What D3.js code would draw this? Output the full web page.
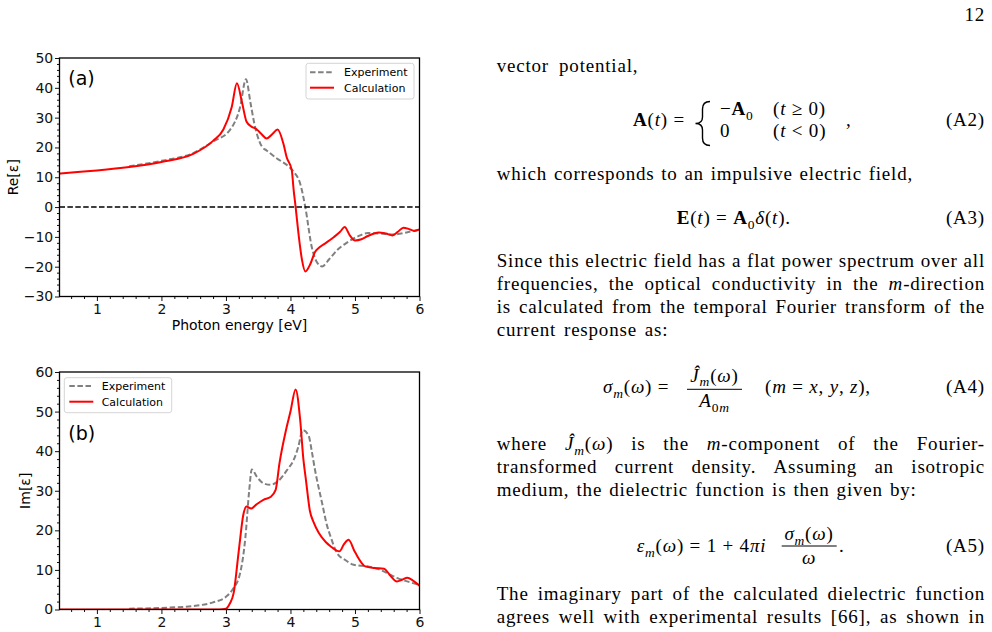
<!DOCTYPE html>
<html>
<head>
<meta charset="utf-8">
<script src="https://cdn.jsdelivr.net/npm/d3@7"></script>
<style>
  body { margin: 0; background: #fff; }
  svg { display: block; }
  .axis text { font-family: "DejaVu Sans", sans-serif; font-size: 14px; fill: #111; }
  .axis line { stroke: #111; stroke-width: 1; }
  .page text { font-family: "Liberation Serif", serif; font-size: 19px; fill: #000; letter-spacing: 0.8px; }
</style>
</head>
<body>
<script>
// ---- data ----
const xTicks = [1, 2, 3, 4, 5, 6];
const reTicks = [-30, -20, -10, 0, 10, 20, 30, 40, 50];
const imTicks = [0, 10, 20, 30, 40, 50, 60];

// (a) real part
const energyReCalc = [0.4, 0.7, 1.0, 1.5, 2.0, 2.5, 2.8, 2.96, 3.09, 3.17, 3.25, 3.32, 3.40, 3.47, 3.55, 3.63, 3.72, 3.80, 3.89, 3.94, 4.02, 4.05, 4.08, 4.13, 4.18, 4.23, 4.31, 4.38, 4.45, 4.55, 4.67, 4.77, 4.84, 4.92, 5.0, 5.1, 5.19, 5.37, 5.48, 5.58, 5.67, 5.75, 5.84, 5.92, 6.0];
const reCalc = [11.2, 11.8, 12.3, 13.4, 15.1, 17.9, 22.2, 26.0, 33.6, 41.5, 35.0, 28.6, 26.9, 26.2, 24.5, 23.0, 24.5, 26.0, 21.3, 16.8, 12.4, 5.6, 0, -10.0, -17.9, -21.6, -19.0, -15.1, -13.5, -12.0, -10.1, -8.3, -6.7, -9.5, -11.2, -10.8, -9.8, -8.5, -8.9, -9.5, -8.2, -6.9, -7.4, -8.0, -7.5];
const energyReExp = [1.5, 2.0, 2.5, 2.8, 3.06, 3.22, 3.31, 3.38, 3.44, 3.48, 3.56, 3.63, 3.79, 3.95, 4.05, 4.15, 4.23, 4.33, 4.41, 4.49, 4.6, 4.72, 4.87, 5.03, 5.2, 5.4, 5.6, 5.8, 6.0];
const reExp = [13.7, 15.5, 18.2, 22.0, 25.8, 33.6, 42.9, 35.0, 28.0, 24.5, 20.2, 19.0, 16.3, 14.0, 11.8, 7.9, 0, -13.4, -18.5, -19.9, -17.5, -14.5, -12.0, -10.0, -8.7, -8.9, -9.2, -8.5, -7.5];

// (b) imaginary part
const energyImCalc = [0.4, 2.9, 3.0, 3.06, 3.12, 3.2, 3.27, 3.32, 3.39, 3.47, 3.58, 3.69, 3.77, 3.83, 3.93, 4.0, 4.08, 4.15, 4.2, 4.24, 4.3, 4.36, 4.44, 4.55, 4.62, 4.76, 4.83, 4.9, 5.0, 5.16, 5.3, 5.45, 5.55, 5.65, 5.73, 5.81, 5.9, 6.0];
const imCalc = [0, 0, 0.2, 1.5, 4.2, 15.0, 24.0, 26.0, 25.5, 26.5, 27.7, 28.4, 30.2, 37.0, 45.3, 50.0, 55.6, 48.0, 38.0, 32.7, 25.0, 22.0, 19.3, 17.0, 16.0, 14.7, 16.5, 17.6, 14.5, 10.9, 10.5, 10.3, 8.5, 7.1, 7.5, 8.0, 7.3, 6.0];
const energyImExp = [1.5, 2.0, 2.5, 2.8, 3.0, 3.1, 3.22, 3.3, 3.36, 3.40, 3.48, 3.58, 3.69, 3.8, 3.95, 4.05, 4.12, 4.19, 4.28, 4.33, 4.38, 4.49, 4.57, 4.62, 4.72, 4.85, 4.98, 5.19, 5.35, 5.5, 5.65, 5.81, 6.0];
const imExp = [0.2, 0.4, 0.9, 1.8, 3.2, 5.0, 9.2, 18.0, 30.0, 35.4, 33.5, 31.9, 31.5, 32.3, 35.3, 37.8, 41.0, 45.3, 44.0, 40.0, 35.3, 26.9, 21.0, 18.5, 14.3, 12.5, 11.3, 10.9, 10.3, 9.2, 8.0, 7.1, 6.2];

const seriesNames = ["Experiment", "Calculation"];

const W = 992, H = 632;
const svg = d3.select("body").append("svg")
    .attr("width", W)
    .attr("height", H);
svg.append("rect").attr("width", W).attr("height", H).attr("fill", "#fff");

const x = d3.scaleLinear().domain([0.42, 6]).range([59.5, 419.5]);
const xMinor = d3.range(3, 30).map(i => i / 5).filter(v => Math.abs(v - Math.round(v)) > 1e-6);

const panels = [
    {
        id: "a", top: 58, bottom: 296.5, yDomain: [-30, 50], yTicks: reTicks,
        calc: [energyReCalc, reCalc], exp: [energyReExp, reExp],
        tag: "(a)", tagY: 84.5, yLabel: "Re[ε]", yLabelX: 18, xLabel: true, zeroLine: true,
        legend: { x: 306, y: 63.3, w: 108, h: 35.7, lx0: 310, lx1: 334, tx: 344, y1: 72.3, y2: 87.7 }
    },
    {
        id: "b", top: 372, bottom: 609.5, yDomain: [0, 60], yTicks: imTicks,
        calc: [energyImCalc, imCalc], exp: [energyImExp, imExp],
        tag: "(b)", tagY: 439.5, yLabel: "Im[ε]", yLabelX: 30, xLabel: false, zeroLine: false,
        legend: { x: 64.3, y: 377.7, w: 107.4, h: 35, lx0: 69.3, lx1: 93.3, tx: 101.7, y1: 386, y2: 401.7 }
    }
];

panels.forEach(p => {
    const y = d3.scaleLinear().domain(p.yDomain).range([p.bottom, p.top]);
    const g = svg.append("g").attr("class", "panel-" + p.id);

    g.append("clipPath").attr("id", "clip-" + p.id)
        .append("rect")
        .attr("x", x.range()[0]).attr("y", p.top)
        .attr("width", x.range()[1] - x.range()[0]).attr("height", p.bottom - p.top);

    // minor ticks
    const yMinor = d3.range(p.yDomain[0], p.yDomain[1] + 0.1, 2).filter(v => v % 10 !== 0);
    g.append("g").attr("class", "axis")
        .attr("transform", `translate(0,${p.bottom})`)
        .call(d3.axisBottom(x).tickValues(xMinor).tickSize(2.5).tickFormat(""))
        .call(s => s.select(".domain").remove());
    g.append("g").attr("class", "axis")
        .attr("transform", `translate(${x.range()[0]},0)`)
        .call(d3.axisLeft(y).tickValues(yMinor).tickSize(2.5).tickFormat(""))
        .call(s => s.select(".domain").remove());

    // major ticks
    g.append("g").attr("class", "axis")
        .attr("transform", `translate(0,${p.bottom})`)
        .call(d3.axisBottom(x).tickValues(xTicks).tickSize(4.5).tickPadding(3.1).tickFormat(d3.format("d")))
        .call(s => s.select(".domain").remove());
    g.append("g").attr("class", "axis")
        .attr("transform", `translate(${x.range()[0]},0)`)
        .call(d3.axisLeft(y).tickValues(p.yTicks).tickSize(4.5).tickPadding(1.8).tickFormat(d3.format("d")))
        .call(s => s.select(".domain").remove());

    const plot = g.append("g").attr("clip-path", `url(#clip-${p.id})`);

    const line = d3.line()
        .x(d => x(d[0]))
        .y(d => y(d[1]))
        .curve(d3.curveMonotoneX);

    plot.append("path")
        .datum(d3.zip(p.exp[0], p.exp[1]))
        .attr("d", line)
        .attr("fill", "none")
        .attr("stroke", "#808080")
        .attr("stroke-width", 2)
        .attr("stroke-dasharray", "5.5,2.6");

    plot.append("path")
        .datum(d3.zip(p.calc[0], p.calc[1]))
        .attr("d", line)
        .attr("fill", "none")
        .attr("stroke", "#ff0000")
        .attr("stroke-width", 2);

    if (p.zeroLine) {
        plot.append("line")
            .attr("x1", x.range()[0]).attr("x2", x.range()[1])
            .attr("y1", y(0)).attr("y2", y(0))
            .attr("stroke", "#000")
            .attr("stroke-width", 1.5)
            .attr("stroke-dasharray", "5.5,2.4");
    }

    // frame
    g.append("rect")
        .attr("x", x.range()[0]).attr("y", p.top)
        .attr("width", x.range()[1] - x.range()[0]).attr("height", p.bottom - p.top)
        .attr("fill", "none").attr("stroke", "#000").attr("stroke-width", 1.3);

    // panel tag
    g.append("text")
        .attr("x", 68.3).attr("y", p.tagY)
        .style("font-family", "DejaVu Sans, sans-serif")
        .style("font-size", "19px")
        .text(p.tag);

    // axis labels
    g.append("text")
        .attr("transform", `translate(${p.yLabelX},${(p.top + p.bottom) / 2}) rotate(-90)`)
        .attr("text-anchor", "middle")
        .style("font-family", "DejaVu Sans, sans-serif")
        .style("font-size", "14px")
        .text(p.yLabel);
    if (p.xLabel) {
        g.append("text")
            .attr("x", (x.range()[0] + x.range()[1]) / 2).attr("y", p.bottom + 33.5)
            .attr("text-anchor", "middle")
            .style("font-family", "DejaVu Sans, sans-serif")
            .style("font-size", "14px")
            .text("Photon energy [eV]");
    }

    // legend
    const L = p.legend;
    const lg = g.append("g").attr("class", "legend");
    lg.append("rect")
        .attr("x", L.x).attr("y", L.y).attr("width", L.w).attr("height", L.h)
        .attr("rx", 2.5)
        .attr("fill", "#fff").attr("fill-opacity", 0.85)
        .attr("stroke", "#d4d4d4").attr("stroke-width", 1);
    const styles = [
        { stroke: "#808080", dash: "5.5,2.6" },
        { stroke: "#ff0000", dash: null }
    ];
    [L.y1, L.y2].forEach((ly, i) => {
        lg.append("line")
            .attr("x1", L.lx0).attr("x2", L.lx1).attr("y1", ly).attr("y2", ly)
            .attr("stroke", styles[i].stroke).attr("stroke-width", 2)
            .attr("stroke-dasharray", styles[i].dash);
        lg.append("text")
            .attr("x", L.tx).attr("y", ly).attr("dy", "0.36em")
            .style("font-family", "DejaVu Sans, sans-serif")
            .style("font-size", "11px")
            .text(seriesNames[i]);
    });
});

// ---- page text on the right ----
const page = svg.append("g").attr("class", "page");
const R = t => ({ t });
const I = t => ({ t, it: true });
const B = t => ({ t, bold: true });
const Sub = (t, it) => ({ t, sub: true, it });

function addSegs(text, segs) {
    let shift = 0;
    segs.forEach(s => {
        const ts = text.append("tspan").text(s.t);
        if (s.it) ts.style("font-style", "italic");
        if (s.bold) ts.style("font-weight", "bold");
        const target = s.sub ? 4.5 : 0;
        if (s.sub) ts.style("font-size", "13.5px");
        if (target !== shift) ts.attr("dy", target - shift);
        shift = target;
    });
}

function place(xp, yp, segs, anchor) {
    const t = page.append("text").attr("x", xp).attr("y", yp);
    if (anchor) t.attr("text-anchor", anchor);
    addSegs(t, segs);
    return t;
}

// justified line: words spread between x0 and x1
function textLine(yp, words, x0, x1) {
    const nodes = words.map(w => {
        const t = page.append("text").attr("y", yp);
        addSegs(t, typeof w === "string" ? [R(w)] : w);
        return t;
    });
    const widths = nodes.map(n => n.node().getComputedTextLength());
    const gap = words.length > 1 ? (x1 - x0 - d3.sum(widths)) / (words.length - 1) : 0;
    let xp = x0;
    nodes.forEach((n, i) => { n.attr("x", xp); xp += widths[i] + gap; });
}
const split = s => s.split(" ");
const X0 = 496.7, X1 = 985;

page.append("text").attr("x", X1).attr("y", 20.7).attr("text-anchor", "end").text("12");

textLine(72, split("vector potential,"), X0, 638.3);

// (A2)
place(633, 126, [B("A"), R("("), I("t"), R(") =")]);
page.append("path")
    .attr("d", "M710,101.5 Q702.5,101.5 702.5,109 L702.5,117 Q702.5,123.5 695.5,123.5 Q702.5,123.5 702.5,130 L702.5,138 Q702.5,145.5 710,145.5")
    .attr("fill", "none").attr("stroke", "#000").attr("stroke-width", 1.4);
place(720, 115, [R("−"), B("A"), Sub("0")]);
place(773, 115, [R("("), I("t"), R(" ≥ 0)")]);
place(720, 137, [R("0")]);
place(773, 137, [R("("), I("t"), R(" < 0)")]);
place(846, 126, [R(",")]);
place(X1, 126, [R("(A2)")], "end");

textLine(180, split("which corresponds to an impulsive electric field,"), X0, 913);

// (A3)
place(676.7, 224, [B("E"), R("("), I("t"), R(") = "), B("A"), Sub("0"), I("δ"), R("("), I("t"), R(").")]);
place(X1, 224, [R("(A3)")], "end");

textLine(266.7, split("Since this electric field has a flat power spectrum over all"), X0, X1);
textLine(289.9, split("frequencies, the optical conductivity in the").concat([[I("m"), R("-direction")]]), X0, X1);
textLine(313.1, split("is calculated from the temporal Fourier transform of the"), X0, X1);
textLine(336.3, split("current response as:"), X0, 668.3);

// (A4)
place(603, 393, [I("σ"), Sub("m", true), R("("), I("ω"), R(") =")]);
place(714.5, 381.5, [I("Ĵ"), Sub("m", true), R("("), I("ω"), R(")")], "middle");
page.append("line").attr("x1", 687).attr("x2", 742).attr("y1", 389.3).attr("y2", 389.3)
    .attr("stroke", "#000").attr("stroke-width", 1);
place(714.5, 407, [I("A"), Sub("0"), Sub("m", true)], "middle");
place(765, 393, [R("("), I("m"), R(" = "), I("x"), R(", "), I("y"), R(", "), I("z"), R("),")]);
place(X1, 393, [R("(A4)")], "end");

textLine(450, ["where", [I("Ĵ"), Sub("m", true), R("("), I("ω"), R(")")], "is", "the", [I("m"), R("-component")], "of", "the", "Fourier-"], X0, X1);
textLine(473.2, split("transformed current density.  Assuming an isotropic").filter(w => w), X0, X1);
textLine(496.4, split("medium, the dielectric function is then given by:"), X0, 916.7);

// (A5)
place(636.7, 552, [I("ε"), Sub("m", true), R("("), I("ω"), R(") = 1 + 4"), I("πi")]);
place(809, 540, [I("σ"), Sub("m", true), R("("), I("ω"), R(")")], "middle");
page.append("line").attr("x1", 781.7).attr("x2", 836.7).attr("y1", 546).attr("y2", 546)
    .attr("stroke", "#000").attr("stroke-width", 1);
place(809, 564, [I("ω")], "middle");
place(839, 552, [R(".")]);
place(X1, 552, [R("(A5)")], "end");

textLine(600, split("The imaginary part of the calculated dielectric function"), X0, X1);
textLine(623.2, split("agrees well with experimental results [66], as shown in"), X0, X1);
</script>
</body>
</html>
